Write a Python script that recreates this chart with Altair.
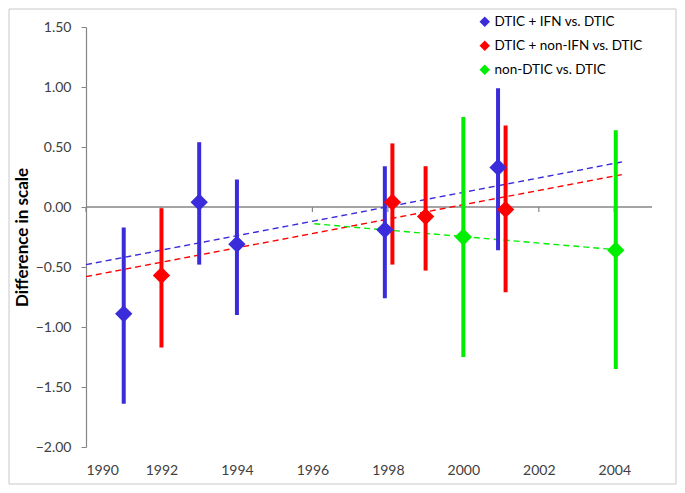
import altair as alt
import pandas as pd

# ---- data ----
series_names = ["DTIC + IFN vs. DTIC", "DTIC + non-IFN vs. DTIC", "non-DTIC vs. DTIC"]
series_colors = ["#3A2BDB", "#FF0000", "#00EE00"]

pt_series = [0, 0, 0, 0, 0, 1, 1, 1, 1, 2, 2]
pt_year = [1991, 1993, 1994, 1997.92, 2000.92, 1992, 1998.12, 1999, 2001.12, 2000, 2004.04]
pt_est = [-0.89, 0.04, -0.31, -0.19, 0.33, -0.57, 0.04, -0.08, -0.02, -0.25, -0.36]
pt_low = [-1.64, -0.48, -0.90, -0.76, -0.36, -1.17, -0.48, -0.53, -0.71, -1.25, -1.35]
pt_high = [-0.17, 0.54, 0.23, 0.34, 0.99, -0.01, 0.53, 0.34, 0.68, 0.75, 0.64]

trend_series = [0, 0, 1, 1, 2, 2]
trend_year = [1990, 2004.2, 1990, 2004.2, 1996.05, 2004.2]
trend_val = [-0.48, 0.375, -0.58, 0.27, -0.14, -0.36]

x_ticks = [1990, 1992, 1994, 1996, 1998, 2000, 2002, 2004]
y_ticks = [1.5, 1.0, 0.5, 0.0, -0.5, -1.0, -1.5, -2.0]

# ---- tables ----
pts = pd.DataFrame({
    "series": [series_names[i] for i in pt_series],
    "year": pt_year, "est": pt_est, "low": pt_low, "high": pt_high,
})
trend = pd.DataFrame({
    "series": [series_names[i] for i in trend_series],
    "year": trend_year, "val": trend_val,
})
ticks_df = pd.DataFrame({"year": x_ticks, "y0": [0.0] * len(x_ticks), "y1": [-0.042] * len(x_ticks)})
zero_df = pd.DataFrame({"x0": [1990], "x1": [2005], "y": [0.0]})

W, H = 566, 420
FONT = "Lato"

xscale = alt.Scale(domain=[1990, 2005], nice=False, zero=False)
yscale = alt.Scale(domain=[-2.0, 1.5], nice=False, zero=False)
cscale = alt.Scale(domain=series_names, range=series_colors)

xaxis = alt.Axis(values=x_ticks, format="d", domain=False, ticks=False, grid=False,
                 labelFont=FONT, labelFontSize=14, labelColor="#404040", labelPadding=16, title=None)
yaxis = alt.Axis(values=y_ticks, format=".2f", domain=True, domainColor="#868686", domainWidth=1.2,
                 ticks=True, tickSize=5, tickColor="#868686", grid=False,
                 labelFont=FONT, labelFontSize=14, labelColor="#404040", labelPadding=10,
                 title="Difference in scale", titleFont=FONT, titleFontSize=17, titleFontWeight="bold",
                 titleColor="#000000", titlePadding=4)

zero_line = alt.Chart(zero_df).mark_rule(color="#868686", strokeWidth=1.5).encode(
    x=alt.X("x0:Q", scale=xscale, axis=xaxis), x2="x1:Q",
    y=alt.Y("y:Q", scale=yscale, axis=yaxis),
)
zero_ticks = alt.Chart(ticks_df).mark_rule(color="#868686", strokeWidth=1.2).encode(
    x=alt.X("year:Q", scale=xscale), y=alt.Y("y0:Q", scale=yscale), y2="y1:Q",
)

trend_lines = alt.Chart(trend).mark_line(strokeDash=[6, 4], strokeWidth=1.4).encode(
    x=alt.X("year:Q", scale=xscale),
    y=alt.Y("val:Q", scale=yscale),
    color=alt.Color("series:N", scale=cscale, legend=None),
    detail="series:N",
)

bars = alt.Chart(pts).mark_rule(strokeWidth=4).encode(
    x=alt.X("year:Q", scale=xscale),
    y=alt.Y("low:Q", scale=yscale), y2="high:Q",
    color=alt.Color("series:N", scale=cscale, legend=None),
)

points = alt.Chart(pts).mark_point(shape="diamond", filled=True, size=300, opacity=1).encode(
    x=alt.X("year:Q", scale=xscale),
    y=alt.Y("est:Q", scale=yscale),
    color=alt.Color("series:N", scale=cscale, sort=series_names,
                    legend=alt.Legend(title=None, orient="none", legendX=392, legendY=-12,
                                      symbolType="diamond", symbolSize=110, symbolOpacity=1,
                                      symbolStrokeWidth=0,
                                      labelFont=FONT, labelFontSize=13.5, labelColor="#000000",
                                      labelOffset=3, rowPadding=9)),
)

border = alt.Chart(pd.DataFrame({"a": [0]})).mark_rect(fillOpacity=0, stroke="#C8C8C8", strokeWidth=1).encode(
    x=alt.value(-77), x2=alt.value(W + 24), y=alt.value(-18), y2=alt.value(H + 37),
)

chart = alt.layer(border, zero_line, zero_ticks, trend_lines, bars, points).resolve_scale(
    color="independent"
).properties(
    width=W, height=H,
    autosize=alt.AutoSizeParams(type="none"),
    padding={"left": 78, "top": 19, "right": 25, "bottom": 38},
    background="white",
).configure_view(stroke=None)

chart.save("out.html", embed_options={"renderer": "svg", "actions": False})
